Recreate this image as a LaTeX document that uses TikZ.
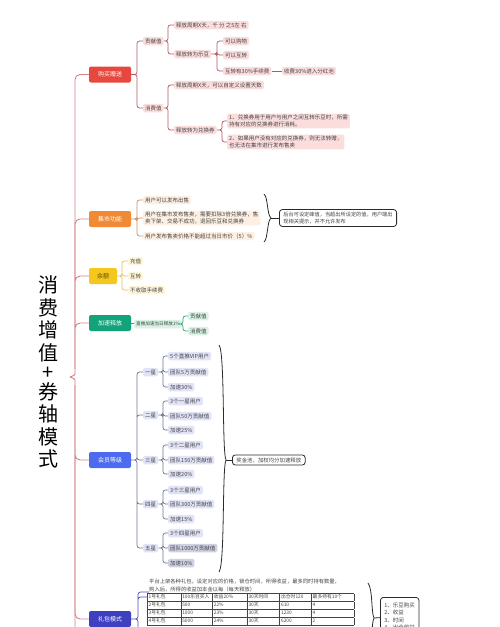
\documentclass[tikz,border=0pt]{standalone}
\usepackage{fontspec}
\setmainfont{Noto Sans CJK SC}
\definecolor{rot}{HTML}{E8473E}
\definecolor{rotlinie}{HTML}{B35A60}
\definecolor{rosa}{HTML}{FBDDDD}
\definecolor{orange}{HTML}{F08A35}
\definecolor{orangelinie}{HTML}{CC915F}
\definecolor{beige}{HTML}{FDF0E3}
\definecolor{gelb}{HTML}{F5C61C}
\definecolor{gelbtext}{HTML}{5B4A10}
\definecolor{gelblinie}{HTML}{E0C060}
\definecolor{hellgelb}{HTML}{FEF6DB}
\definecolor{gruen}{HTML}{12A37A}
\definecolor{gruenlinie}{HTML}{2FA57A}
\definecolor{mint}{HTML}{D8F2E6}
\definecolor{blau}{HTML}{4D6BEE}
\definecolor{blaulinie}{HTML}{6E7491}
\definecolor{lavendel}{HTML}{E1E4F7}
\definecolor{graublau}{HTML}{CFD1E3}
\definecolor{indigo}{HTML}{3E40C0}
\definecolor{indigolinie}{HTML}{4A4DB5}
\definecolor{stammfarbe}{HTML}{D48288}
\definecolor{schrift}{HTML}{444444}
\definecolor{dunkel}{HTML}{2B2B2B}

\begin{document}
\begin{tikzpicture}[x=1pt,y=-1pt,
  thema/.style={rounded corners=2pt, minimum width=42pt, minimum height=16pt, inner sep=1pt,
    text=white, font=\fontsize{6}{7}\selectfont},
  blatt/.style={anchor=west, rounded corners=1.5pt, inner xsep=2pt, inner ysep=1.2pt,
    minimum height=8.5pt, align=left, text=schrift, font=\fontsize{5.5}{7}\selectfont},
  ast/.style={line width=0.7pt, rounded corners=2.5pt,
    to path={(\tikztostart.east) -| ([xshift=-#1pt]\tikztotarget.west) -- (\tikztotarget.west)}},
  ast/.default=6,
  stamm/.style={draw=stammfarbe, line width=0.9pt, rounded corners=5pt},
  klammer/.style={draw=dunkel, line width=0.8pt},
  kasten/.style={draw=dunkel, line width=0.8pt, rounded corners=3pt, fill=white, inner xsep=4pt,
    inner ysep=2.5pt, align=left, text=schrift, font=\fontsize{5.2}{7}\selectfont}]

  \useasboundingbox (0,0) rectangle (500,627);
  \clip (0,0) rectangle (500,627);

  \node[align=center, font=\fontsize{20}{22.5}\selectfont] (titel) at (48,372)
    {消\\费\\增\\值\\[-3pt]+\\[-3pt]券\\轴\\模\\式};

  % Hauptast
  \coordinate (spitze) at (70,377);
  \coordinate (oben) at (75,369);
  \coordinate (unten) at (75,385);
  \coordinate (stammende) at (75,650);

  % Kategorien
  \node[thema, fill=rot] (gmzs) at (110,74.5) {购买赠送};
  \node[thema, fill=orange] (jsgn) at (110,219) {集市功能};
  \node[thema, fill=gelb, text=gelbtext, minimum width=28pt] (ye) at (103,276) {余额};
  \node[thema, fill=gruen] (jssf) at (110,323) {加速释放};
  \node[thema, fill=blau] (hydj) at (110,460) {会员等级};
  \node[thema, fill=indigo] (lbms) at (110,619) {礼包模式};

  \draw[stamm] (spitze) .. controls (73,377) and (75,374) .. (oben) |- (gmzs.west);
  \draw[stamm] (spitze) .. controls (73,377) and (75,380) .. (unten) -- (stammende);
  \draw[stamm] (oben) |- (jsgn.west) (oben) |- (ye.west) (oben) |- (jssf.west);
  \draw[stamm] (unten) |- (hydj.west) (unten) |- (lbms.west);

  % 购买赠送
  \node[blatt, fill=rosa] (gxz) at (143,41) {贡献值};
  \node[blatt, fill=rosa] (xfz) at (143,108) {消费值};
  \node[blatt, fill=rosa] (gx1) at (174,25) {释放周期X天，千 分 之5左 右};
  \node[blatt, fill=rosa] (gx2) at (174,54) {释放转为乐豆};
  \node[blatt, fill=rosa] (ld1) at (223,41) {可以购物};
  \node[blatt, fill=rosa] (ld2) at (223,55) {可以互转};
  \node[blatt, fill=rosa] (ld3) at (223,71) {互转有30\%手续费};
  \node[blatt, fill=rosa] (ld4) at (282,71) {收费30\%进入分红池};
  \node[blatt, fill=rosa] (xf1) at (174,85) {释放周期X天，可以自定义设置天数};
  \node[blatt, fill=rosa] (xf2) at (174,130) {释放转为兑换券};
  \node[blatt, fill=rosa] (dh1) at (227,121) {1、兑换券用于用户与用户之间互转乐豆时，所需\\持有对应的兑换券进行消耗。};
  \node[blatt, fill=rosa] (dh2) at (227,142) {2、如果用户没有对应的兑换券，则无法转赠，\\也无法在集市进行发布售卖};
  \draw[ast, draw=rotlinie] (gmzs) to (gxz) (gmzs) to (xfz);
  \draw[ast, draw=rotlinie] (gxz) to (gx1) (gxz) to (gx2);
  \draw[ast, draw=rotlinie] (gx2) to (ld1) (gx2) to (ld2) (gx2) to (ld3);
  \draw[draw=rotlinie, line width=0.7pt] (ld3) -- (ld4);
  \draw[ast, draw=rotlinie] (xfz) to (xf1) (xfz) to (xf2);
  \draw[ast=5, draw=rotlinie] (xf2) to (dh1) (xf2) to (dh2);

  % 集市功能
  \node[blatt, fill=beige] (js1) at (143,200) {用户可以发布出售};
  \node[blatt, fill=beige] (js2) at (143,218) {用户在集市发布售卖，需要扣除3倍兑换券，售\\卖下架、交易不成功，退回乐豆和兑换券};
  \node[blatt, fill=beige] (js3) at (143,236) {用户发布售卖价格不能超过当日市价（5）\%};
  \draw[ast, draw=orangelinie] (jsgn) to (js1) (jsgn) to (js2) (jsgn) to (js3);
  \coordinate (jsspitze) at (271,218);
  \draw[klammer] (264,194) .. controls (268,197) and (267,215) .. (jsspitze)
    .. controls (267,221) and (268,239) .. (264,242);
  \node[kasten, anchor=west] (jsbox) at (279,218) {后台可设定峰值，当超出所设定的值，用户端出\\现相关提示，并不允许发布};
  \draw[klammer] (jsspitze) -- (jsbox);

  % 余额
  \node[blatt, fill=hellgelb] (ye1) at (128,261) {充值};
  \node[blatt, fill=hellgelb] (ye2) at (128,276) {互转};
  \node[blatt, fill=hellgelb] (ye3) at (128,290) {不收取手续费};
  \draw[ast, draw=gelblinie] (ye) to (ye1) (ye) to (ye2) (ye) to (ye3);

  % 加速释放
  \node[blatt, fill=mint, font=\fontsize{4.6}{6}\selectfont] (jsa) at (134,324) {直推加速当日释放1\%};
  \node[blatt, fill=mint] (jz1) at (188,316) {贡献值};
  \node[blatt, fill=mint] (jz2) at (188,331) {消费值};
  \draw[draw=gruenlinie, line width=0.7pt] (jssf) -- (jsa);
  \draw[ast=5, draw=gruenlinie] (jsa) to (jz1) (jsa) to (jz2);

  % 会员等级
  \node[blatt, fill=lavendel] (st1) at (143,372) {一星};
  \node[blatt, fill=lavendel] (st2) at (143,415) {二星};
  \node[blatt, fill=lavendel] (st3) at (143,460) {三星};
  \node[blatt, fill=lavendel] (st4) at (143,504) {四星};
  \node[blatt, fill=lavendel] (st5) at (143,548) {五星};
  \draw[ast, draw=blaulinie] (hydj) to (st1) (hydj) to (st2) (hydj) to (st3) (hydj) to (st4) (hydj) to (st5);
  \node[blatt, fill=lavendel] (st1a) at (168,356) {5个直推VIP用户};
  \node[blatt, fill=lavendel] (st1b) at (168,372) {团队5万贡献值};
  \node[blatt, fill=lavendel] (st1c) at (168,387) {加速30\%};
  \node[blatt, fill=lavendel] (st2a) at (168,401) {3个一星用户};
  \node[blatt, fill=lavendel] (st2b) at (168,416) {团队50万贡献值};
  \node[blatt, fill=lavendel] (st2c) at (168,430) {加速25\%};
  \node[blatt, fill=lavendel] (st3a) at (168,445) {3个二星用户};
  \node[blatt, fill=lavendel] (st3b) at (168,460) {团队150万贡献值};
  \node[blatt, fill=lavendel] (st3c) at (168,474) {加速20\%};
  \node[blatt, fill=lavendel] (st4a) at (168,490) {3个三星用户};
  \node[blatt, fill=lavendel] (st4b) at (168,504) {团队300万贡献值};
  \node[blatt, fill=lavendel] (st4c) at (168,519) {加速15\%};
  \node[blatt, fill=lavendel] (st5a) at (168,533) {3个四星用户};
  \node[blatt, fill=graublau] (st5b) at (168,548) {团队1000万贡献值};
  \node[blatt, fill=graublau] (st5c) at (168,563) {加速10\%};
  \draw[ast=5, draw=blaulinie] (st1) to (st1a) (st1) to (st1b) (st1) to (st1c);
  \draw[ast=5, draw=blaulinie] (st2) to (st2a) (st2) to (st2b) (st2) to (st2c);
  \draw[ast=5, draw=blaulinie] (st3) to (st3a) (st3) to (st3b) (st3) to (st3c);
  \draw[ast=5, draw=blaulinie] (st4) to (st4a) (st4) to (st4b) (st4) to (st4c);
  \draw[ast=5, draw=blaulinie] (st5) to (st5a) (st5) to (st5b) (st5) to (st5c);
  \coordinate (hyspitze) at (226,460);
  \draw[klammer] (219,345) .. controls (225,352) and (222,452) .. (hyspitze)
    .. controls (222,468) and (225,565) .. (219,572);
  \node[kasten, anchor=west, font=\fontsize{5.4}{7}\selectfont] (hybox) at (232,460) {奖金池，加权均分加速释放};
  \draw[klammer] (hyspitze) -- (hybox);

  % 礼包模式
  \node[anchor=south west, inner sep=0pt, align=left, text=schrift, font=\fontsize{5.3}{8}\selectfont] (lbtext) at (149,592)
    {平台上架各种礼包，设定对应的价格，锁仓时间，所得收益，最多同时持有数量，\\购入后，所得的收益加本金以每（每天释放）};
  \node[anchor=north west, inner sep=0pt, text=schrift, font=\fontsize{4.8}{7.6}\selectfont] (lbtab) at (147,593) {%
    \setlength\tabcolsep{1.5pt}%
    \begin{tabular}{|p{30.6pt}|p{28.6pt}|p{31.6pt}|p{29.6pt}|p{28.6pt}|p{39.6pt}|}\hline
    1号礼包 & 100乐豆买入 & 收益20\% & 30天时间 & 出仓时120 & 最多持有10个\\\hline
    2号礼包 & 500 & 22\% & 30天 & 610 & 4\\\hline
    3号礼包 & 1000 & 23\% & 30天 & 1230 & 4\\\hline
    4号礼包 & 5000 & 24\% & 30天 & 6200 & 2\\\hline
    \end{tabular}};
  \coordinate (tabzeile) at (147,597);
  \coordinate (lbende) at (138,650);
  \draw[draw=indigolinie, line width=0.7pt, rounded corners=2.5pt]
    (lbms.east) -| ([xshift=-9pt]tabzeile) -- (tabzeile)
    (lbms.east) -| ([xshift=-11pt]lbtext.south west) -- (lbtext.south west)
    (lbms.east) -| (lbende);
  \coordinate (lbspitze) at (374,618);
  \draw[klammer] (368,583) .. controls (373,590) and (371,612) .. (lbspitze)
    .. controls (371,624) and (373,646) .. (368,653);
  \node[kasten, anchor=north west, inner ysep=2pt, font=\fontsize{5.5}{7.3}\selectfont, minimum height=38pt] (lbbox) at (380,597)
    {1、乐豆购买\\2、收益\\3、时间\\4、出仓收益};
  \draw[klammer] (lbspitze) -- (lbbox);
\end{tikzpicture}
\end{document}
